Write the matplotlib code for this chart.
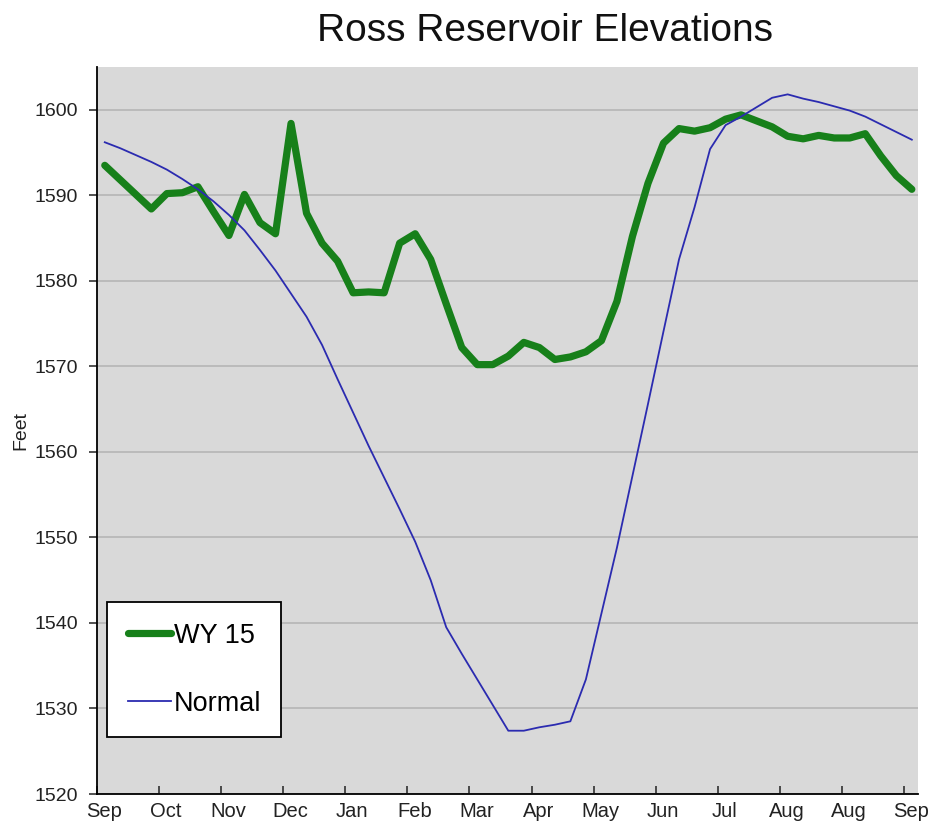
import numpy as np
import matplotlib
matplotlib.use('Agg')
import matplotlib.pyplot as plt
import matplotlib.transforms as mtransforms

# weekly reservoir elevations (feet), week index 0..52
wy15 = [1593.5, 1591.8, 1590.1, 1588.4, 1590.2, 1590.3, 1591.0, 1588.1, 1585.3, 1590.1,
        1586.8, 1585.5, 1598.4, 1587.9, 1584.4, 1582.3, 1578.6, 1578.7, 1578.6, 1584.4,
        1585.5, 1582.5, 1577.3, 1572.2, 1570.2, 1570.2, 1571.2, 1572.8, 1572.2, 1570.8,
        1571.1, 1571.7, 1573.0, 1577.6, 1585.2, 1591.4, 1596.1, 1597.8, 1597.5, 1597.9,
        1598.9, 1599.4, 1598.7, 1598.0, 1596.9, 1596.6, 1597.0, 1596.7, 1596.7, 1597.2,
        1594.6, 1592.3, 1590.7]
normal = [1596.2, 1595.5, 1594.7, 1593.9, 1593.0, 1591.9, 1590.7, 1589.3, 1587.7, 1585.9,
          1583.6, 1581.2, 1578.5, 1575.8, 1572.5, 1568.5, 1564.6, 1560.7, 1557.0, 1553.3,
          1549.5, 1545.0, 1539.5, 1536.4, 1533.4, 1530.4, 1527.4, 1527.4, 1527.8, 1528.1,
          1528.5, 1533.4, 1541.1, 1548.8, 1557.2, 1565.6, 1574.1, 1582.5, 1588.6, 1595.4,
          1598.2, 1599.2, 1600.3, 1601.4, 1601.8, 1601.3, 1600.9, 1600.4, 1599.9, 1599.2,
          1598.3, 1597.4, 1596.5]
month_labels = ['Sep', 'Oct', 'Nov', 'Dec', 'Jan', 'Feb', 'Mar', 'Apr', 'May',
                'Jun', 'Jul', 'Aug', 'Aug', 'Sep']
y_ticks = [1520, 1530, 1540, 1550, 1560, 1570, 1580, 1590, 1600]

plt.rcParams['font.family'] = ['Liberation Sans', 'DejaVu Sans']

weeks = np.arange(len(wy15)) + 0.5

fig = plt.figure(figsize=(9.32, 8.27), dpi=100)
ax = fig.add_axes([0.1041, 0.0399, 0.8809, 0.8791])
ax.set_facecolor('#d9d9d9')

ax.plot(weeks, wy15, color='#17801a', lw=5.2, solid_capstyle='round',
        solid_joinstyle='round', label='WY 15', zorder=3)
ax.plot(weeks, normal, color='#2b2bb0', lw=1.3, label='Normal', zorder=4)

ax.set_xlim(0, 52.9)
ax.set_ylim(1520, 1605)
ax.set_yticks(y_ticks)
ax.set_xticks(np.arange(0, 53, 4))
ax.set_xticklabels(month_labels)
ax.yaxis.grid(True, color='#b5b5b5', lw=1.2)
ax.set_axisbelow(True)

for side in ['top', 'right']:
    ax.spines[side].set_visible(False)
for side in ['left', 'bottom']:
    ax.spines[side].set_color('black')
    ax.spines[side].set_linewidth(1.3)

ax.tick_params(axis='x', direction='in', length=6, width=1.1, pad=6,
               labelsize=14.5, colors='#222222')
ax.tick_params(axis='y', direction='out', length=6, width=1.1, pad=7.5,
               labelsize=14, colors='#222222')
offset = mtransforms.ScaledTranslation(7 / 100, 0, fig.dpi_scale_trans)
for lab in ax.get_xticklabels():
    lab.set_transform(lab.get_transform() + offset)

ax.set_ylabel('Feet', fontsize=14, color='#222222')
ax.yaxis.set_label_coords(-0.083, 0.5)
fig.text(0.585, 0.963, 'Ross Reservoir Elevations', ha='center', va='center',
         fontsize=28, color='#111111')

leg = ax.legend(loc='lower left', bbox_to_anchor=(0.0125, 0.0784), fontsize=19.5,
                frameon=True, fancybox=False, framealpha=1, edgecolor='black',
                handlelength=1.6, handletextpad=0.1, labelspacing=1.55,
                borderpad=0.75, borderaxespad=0)
leg.get_frame().set_linewidth(1.3)

fig.savefig('out.png', dpi=100)
